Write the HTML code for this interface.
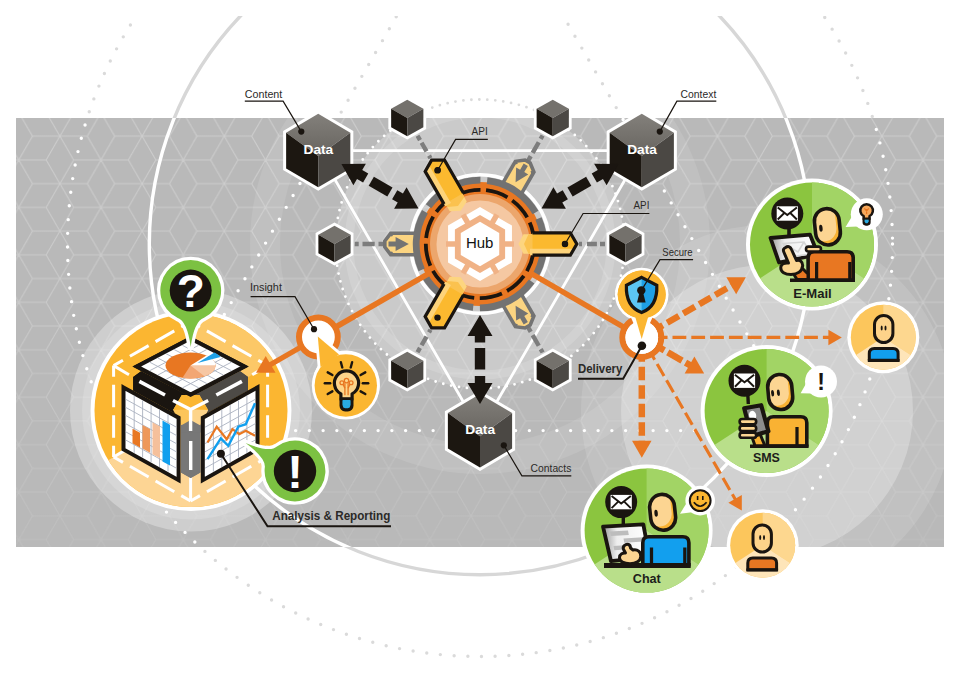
<!DOCTYPE html>
<html><head><meta charset="utf-8"><title>Hub</title>
<style>
html,body{margin:0;padding:0;background:#fff;}
body{width:960px;height:679px;overflow:hidden;}
svg{display:block;}
text{font-family:"Liberation Sans",sans-serif;}
</style></head><body>
<svg width="960" height="679" viewBox="0 0 960 679">
<defs>
<pattern id="rh" x="59.90" y="136.20" width="82.200" height="47.458" patternUnits="userSpaceOnUse"><path d="M0.00 0.00L27.40 0.00M0.00 0.00L13.70 23.73M0.00 0.00L-13.70 23.73M0.00 0.00L-27.40 0.00M0.00 0.00L-13.70 -23.73M0.00 0.00L13.70 -23.73M82.20 0.00L109.60 0.00M82.20 0.00L95.90 23.73M82.20 0.00L68.50 23.73M82.20 0.00L54.80 0.00M82.20 0.00L68.50 -23.73M82.20 0.00L95.90 -23.73M0.00 47.46L27.40 47.46M0.00 47.46L13.70 71.19M0.00 47.46L-13.70 71.19M0.00 47.46L-27.40 47.46M0.00 47.46L-13.70 23.73M0.00 47.46L13.70 23.73M82.20 47.46L109.60 47.46M82.20 47.46L95.90 71.19M82.20 47.46L68.50 71.19M82.20 47.46L54.80 47.46M82.20 47.46L68.50 23.73M82.20 47.46L95.90 23.73M41.10 23.73L68.50 23.73M41.10 23.73L54.80 47.46M41.10 23.73L27.40 47.46M41.10 23.73L13.70 23.73M41.10 23.73L27.40 0.00M41.10 23.73L54.80 0.00" stroke="#cdcdcd" stroke-width="1.1" fill="none"/></pattern>
<clipPath id="rc"><rect x="16" y="118" width="928" height="429"/></clipPath>
</defs>
<defs><clipPath id="topc"><rect x="0" y="16" width="960" height="663"/></clipPath></defs>
<g clip-path="url(#topc)">
<circle cx="480" cy="244" r="412.5" fill="none" stroke="#dadada" stroke-width="3.4" stroke-linecap="round" stroke-dasharray="0 13.75"/>
<polygon points="157.32,430.60 802.68,430.60 480.00,-128.30" fill="none" stroke="#dadada" stroke-width="3.4" stroke-linecap="round" stroke-dasharray="0 13.75" stroke-dashoffset="-0.8"/>
<circle cx="480" cy="244" r="144.5" fill="none" stroke="#dadada" stroke-width="2.8" stroke-linecap="round" stroke-dasharray="0 8"/>
<circle cx="480" cy="244" r="330.7" fill="none" stroke="#d7d7d7" stroke-width="3.4"/>
</g>
<rect x="16" y="118" width="928" height="429" fill="#b9b9b9"/>
<defs><linearGradient id="fade" x1="0" y1="0" x2="0" y2="1"><stop offset="0" stop-color="#fff" stop-opacity="1"/><stop offset="0.45" stop-color="#fff" stop-opacity="0.85"/><stop offset="1" stop-color="#fff" stop-opacity="0.3"/></linearGradient><mask id="fm"><rect x="16" y="118" width="928" height="429" fill="url(#fade)"/></mask></defs>
<rect x="16" y="118" width="928" height="429" fill="url(#rh)" mask="url(#fm)"/>
<g clip-path="url(#rc)">
<circle cx="191" cy="410.5" r="109" fill="#fff" opacity="0.16"/>
<circle cx="191" cy="410.5" r="121" fill="#fff" opacity="0.3"/>
<circle cx="767" cy="411" r="186" fill="#fff" opacity="0.12"/>
<circle cx="767" cy="411" r="146" fill="#fff" opacity="0.26"/>
<circle cx="480" cy="244" r="144" fill="#fff" opacity="0.25"/>
<circle cx="480" cy="244" r="215" fill="none" stroke="#fff" stroke-width="30" opacity="0.10"/>
<circle cx="480" cy="244" r="131" fill="none" stroke="#fff" stroke-width="9" opacity="0.14"/>
<circle cx="480" cy="244" r="412.5" fill="none" stroke="#ffffff" stroke-width="3.4" stroke-linecap="round" stroke-dasharray="0 13.75"/>
<polygon points="157.32,430.60 802.68,430.60 480.00,-128.30" fill="none" stroke="#ffffff" stroke-width="3.4" stroke-linecap="round" stroke-dasharray="0 13.75" stroke-dashoffset="-0.8"/>
<circle cx="480" cy="244" r="144.5" fill="none" stroke="#ffffff" stroke-width="2.8" stroke-linecap="round" stroke-dasharray="0 8"/>
<circle cx="480" cy="244" r="330.7" fill="none" stroke="#ffffff" stroke-width="3.4"/>
</g>
<polygon points="480.00,430.80 318.23,150.60 641.77,150.60" fill="none" stroke="#fff" stroke-width="2.8"/>
<defs><linearGradient id="ctop" x1="0" y1="0" x2="0" y2="1"><stop offset="0" stop-color="#83807b"/><stop offset="1" stop-color="#67645f"/></linearGradient></defs>
<line x1="579.00" y1="244.00" x2="615.50" y2="244.00" stroke="#7d7d7d" stroke-width="4.4" stroke-dasharray="3 4.9 10 3.1 5 50"/>
<line x1="527.00" y1="325.41" x2="547.75" y2="361.35" stroke="#7d7d7d" stroke-width="4.4" stroke-dasharray="7.5 3.8 12.2 3.8 4 50"/>
<line x1="430.50" y1="329.74" x2="412.25" y2="361.35" stroke="#7d7d7d" stroke-width="4.4" stroke-dasharray="3 4.9 10 3.1 5 50"/>
<line x1="386.00" y1="244.00" x2="344.50" y2="244.00" stroke="#7d7d7d" stroke-width="4.4" stroke-dasharray="7.5 3.8 12.2 3.8 4 50"/>
<line x1="430.50" y1="158.26" x2="412.25" y2="126.65" stroke="#7d7d7d" stroke-width="4.4" stroke-dasharray="3 4.9 10 3.1 5 50"/>
<line x1="527.00" y1="162.59" x2="547.75" y2="126.65" stroke="#7d7d7d" stroke-width="4.4" stroke-dasharray="7.5 3.8 12.2 3.8 4 50"/>
<circle cx="480" cy="244" r="69.3" fill="none" stroke="#fff" stroke-width="3.6"/>
<polygon points="520.77,293.21 533.92,315.99 530.20,324.95 525.00,327.95 515.38,326.69 502.23,303.91" fill="#fbd481"/>
<polyline points="520.77,293.21 533.92,315.99 530.20,324.95 525.00,327.95 515.38,326.69 502.23,303.91" fill="none" stroke="#737373" stroke-width="3.6" stroke-linejoin="miter"/>
<polygon points="532.02,312.70 530.42,316.73 534.77,317.46" fill="#737373"/>
<polygon points="513.48,323.40 517.78,324.03 516.23,328.16" fill="#737373"/>
<polygon points="515.60,305.66 528.26,313.59 524.28,315.89 527.83,322.04 523.67,324.44 520.12,318.29 516.14,320.59" fill="#737373"/>
<polygon points="417.00,254.70 390.70,254.70 384.80,247.00 384.80,241.00 390.70,233.30 417.00,233.30" fill="#fbd481"/>
<polyline points="417.00,254.70 390.70,254.70 384.80,247.00 384.80,241.00 390.70,233.30 417.00,233.30" fill="none" stroke="#737373" stroke-width="3.6" stroke-linejoin="miter"/>
<polygon points="394.50,254.70 391.80,251.30 389.00,254.70" fill="#737373"/>
<polygon points="394.50,233.30 391.80,236.70 389.00,233.30" fill="#737373"/>
<polygon points="408.80,244.00 395.60,251.00 395.60,246.40 388.50,246.40 388.50,241.60 395.60,241.60 395.60,237.00" fill="#737373"/>
<polygon points="502.23,184.09 515.38,161.31 525.00,160.05 530.20,163.05 533.92,172.01 520.77,194.79" fill="#fbd481"/>
<polyline points="502.23,184.09 515.38,161.31 525.00,160.05 530.20,163.05 533.92,172.01 520.77,194.79" fill="none" stroke="#737373" stroke-width="3.6" stroke-linejoin="miter"/>
<polygon points="513.48,164.60 517.78,163.97 516.23,159.84" fill="#737373"/>
<polygon points="532.02,175.30 530.42,171.27 534.77,170.54" fill="#737373"/>
<polygon points="515.60,182.34 516.14,167.41 520.12,169.71 523.67,163.56 527.83,165.96 524.28,172.11 528.26,174.41" fill="#737373"/>
<circle cx="480" cy="244" r="62" fill="#e87722"/>
<circle cx="480" cy="244" r="63.8" fill="none" stroke="#727272" stroke-width="6.8" stroke-dasharray="60.13 6.68" transform="rotate(36 480 244)"/>
<line x1="480" y1="244" x2="318.5" y2="337" stroke="#e87722" stroke-width="5.5"/>
<line x1="480" y1="244" x2="641.3" y2="337.3" stroke="#e87722" stroke-width="5.5"/>
<circle cx="480" cy="244" r="50" fill="#eca66c"/>
<circle cx="480" cy="244" r="43.5" fill="#f5c8a2"/>
<circle cx="480" cy="244" r="54.2" fill="none" stroke="#1a1510" stroke-width="3.8" stroke-dasharray="22.70 5.68" transform="rotate(6 480 244)"/>
<polygon points="480.00,207.10 511.96,225.55 511.96,262.45 480.00,280.90 448.04,262.45 448.04,225.55" fill="#fff"/>
<polygon points="480.00,215.00 505.11,229.50 505.11,258.50 480.00,273.00 454.89,258.50 454.89,229.50" fill="#f0b286"/>
<line x1="491.00" y1="224.95" x2="497.00" y2="214.56" stroke="#f0b286" stroke-width="5.5"/>
<line x1="502.00" y1="244.00" x2="514.00" y2="244.00" stroke="#f0b286" stroke-width="5.5"/>
<line x1="491.00" y1="263.05" x2="497.00" y2="273.44" stroke="#f0b286" stroke-width="5.5"/>
<line x1="469.00" y1="263.05" x2="463.00" y2="273.44" stroke="#f0b286" stroke-width="5.5"/>
<line x1="458.00" y1="244.00" x2="446.00" y2="244.00" stroke="#f0b286" stroke-width="5.5"/>
<line x1="469.00" y1="224.95" x2="463.00" y2="214.56" stroke="#f0b286" stroke-width="5.5"/>
<polygon points="480.00,221.80 499.23,232.90 499.23,255.10 480.00,266.20 460.77,255.10 460.77,232.90" fill="#fff"/>
<text x="479.7" y="248.2" font-size="14.6" text-anchor="middle" fill="#111" textLength="27.5" lengthAdjust="spacingAndGlyphs">Hub</text>
<polygon points="518.50,244.00 523.50,234.20 536.00,234.20 536.00,253.80 523.50,253.80" fill="#fdd57f"/>
<polygon points="524.00,244.00 528.50,234.20 536.00,234.20 536.00,253.80 528.50,253.80" fill="#fbc24f"/>
<polygon points="532.50,232.80 570.30,232.80 576.80,244.00 570.30,255.20 532.50,255.20" fill="#fbb92f"/>
<polygon points="530.00,248.70 573.50,248.70 570.30,255.20 530.00,255.20" fill="#fdd37a"/>
<polyline points="532.50,232.80 570.30,232.80 576.80,244.00 570.30,255.20 532.50,255.20" fill="none" stroke="#1a1510" stroke-width="3.2" stroke-linejoin="miter"/>
<circle cx="565.00" cy="244.00" r="3.2" fill="#1a1510"/>
<polygon points="460.75,277.34 466.74,286.57 460.49,297.40 443.51,287.60 449.76,276.77" fill="#fdd57f"/>
<polygon points="458.00,282.11 464.24,290.90 460.49,297.40 443.51,287.60 447.26,281.10" fill="#fbc24f"/>
<polygon points="463.45,295.07 444.55,327.80 431.60,327.83 425.15,316.60 444.05,283.87" fill="#fbb92f"/>
<polygon points="450.93,284.95 429.18,322.62 425.15,316.60 445.30,281.70" fill="#fdd37a"/>
<polyline points="463.45,295.07 444.55,327.80 431.60,327.83 425.15,316.60 444.05,283.87" fill="none" stroke="#1a1510" stroke-width="3.2" stroke-linejoin="miter"/>
<circle cx="437.50" cy="317.61" r="3.2" fill="#1a1510"/>
<polygon points="460.75,210.66 449.76,211.23 443.51,200.40 460.49,190.60 466.74,201.43" fill="#fdd57f"/>
<polygon points="458.00,205.89 447.26,206.90 443.51,200.40 460.49,190.60 464.24,197.10" fill="#fbc24f"/>
<polygon points="444.05,204.13 425.15,171.40 431.60,160.17 444.55,160.20 463.45,192.93" fill="#fbb92f"/>
<polygon points="450.93,203.05 429.18,165.38 425.15,171.40 445.30,206.30" fill="#fdd37a"/>
<polyline points="444.05,204.13 425.15,171.40 431.60,160.17 444.55,160.20 463.45,192.93" fill="none" stroke="#1a1510" stroke-width="3.2" stroke-linejoin="miter"/>
<circle cx="437.50" cy="170.39" r="3.2" fill="#1a1510"/>
<polygon points="625.50,225.70 641.60,234.75 641.60,253.25 625.50,262.30 609.40,253.25 609.40,234.75" fill="#fff" stroke="#fff" stroke-width="5.6" stroke-linejoin="miter"/>
<polygon points="625.50,225.70 641.60,234.75 625.50,244.00 609.40,234.75" fill="#74716c"/>
<polygon points="609.40,234.75 625.50,244.00 625.50,262.30 609.40,253.25" fill="#1c1711"/>
<polygon points="625.50,244.00 641.60,234.75 641.60,253.25 625.50,262.30" fill="#4b4844"/>
<polygon points="552.75,351.71 568.85,360.76 568.85,379.26 552.75,388.31 536.65,379.26 536.65,360.76" fill="#fff" stroke="#fff" stroke-width="5.6" stroke-linejoin="miter"/>
<polygon points="552.75,351.71 568.85,360.76 552.75,370.01 536.65,360.76" fill="#74716c"/>
<polygon points="536.65,360.76 552.75,370.01 552.75,388.31 536.65,379.26" fill="#1c1711"/>
<polygon points="552.75,370.01 568.85,360.76 568.85,379.26 552.75,388.31" fill="#4b4844"/>
<polygon points="407.25,351.71 423.35,360.76 423.35,379.26 407.25,388.31 391.15,379.26 391.15,360.76" fill="#fff" stroke="#fff" stroke-width="5.6" stroke-linejoin="miter"/>
<polygon points="407.25,351.71 423.35,360.76 407.25,370.01 391.15,360.76" fill="#74716c"/>
<polygon points="391.15,360.76 407.25,370.01 407.25,388.31 391.15,379.26" fill="#1c1711"/>
<polygon points="407.25,370.01 423.35,360.76 423.35,379.26 407.25,388.31" fill="#4b4844"/>
<polygon points="334.50,225.70 350.60,234.75 350.60,253.25 334.50,262.30 318.40,253.25 318.40,234.75" fill="#fff" stroke="#fff" stroke-width="5.6" stroke-linejoin="miter"/>
<polygon points="334.50,225.70 350.60,234.75 334.50,244.00 318.40,234.75" fill="#74716c"/>
<polygon points="318.40,234.75 334.50,244.00 334.50,262.30 318.40,253.25" fill="#1c1711"/>
<polygon points="334.50,244.00 350.60,234.75 350.60,253.25 334.50,262.30" fill="#4b4844"/>
<polygon points="407.25,99.69 423.35,108.74 423.35,127.24 407.25,136.29 391.15,127.24 391.15,108.74" fill="#fff" stroke="#fff" stroke-width="5.6" stroke-linejoin="miter"/>
<polygon points="407.25,99.69 423.35,108.74 407.25,117.99 391.15,108.74" fill="#74716c"/>
<polygon points="391.15,108.74 407.25,117.99 407.25,136.29 391.15,127.24" fill="#1c1711"/>
<polygon points="407.25,117.99 423.35,108.74 423.35,127.24 407.25,136.29" fill="#4b4844"/>
<polygon points="552.75,99.69 568.85,108.74 568.85,127.24 552.75,136.29 536.65,127.24 536.65,108.74" fill="#fff" stroke="#fff" stroke-width="5.6" stroke-linejoin="miter"/>
<polygon points="552.75,99.69 568.85,108.74 552.75,117.99 536.65,108.74" fill="#74716c"/>
<polygon points="536.65,108.74 552.75,117.99 552.75,136.29 536.65,127.24" fill="#1c1711"/>
<polygon points="552.75,117.99 568.85,108.74 568.85,127.24 552.75,136.29" fill="#4b4844"/>
<polygon points="480.00,394.05 512.10,413.00 512.10,448.60 480.00,467.55 447.90,448.60 447.90,413.00" fill="#fff" stroke="#fff" stroke-width="6" stroke-linejoin="miter"/>
<polygon points="480.00,394.05 512.10,413.00 480.00,436.30 447.90,413.00" fill="url(#ctop)"/>
<polygon points="447.90,413.00 480.00,436.30 480.00,467.55 447.90,448.60" fill="#1c1711"/>
<polygon points="480.00,436.30 512.10,413.00 512.10,448.60 480.00,467.55" fill="#4b4844"/>
<text x="480.2" y="434.4" font-size="13.6" font-weight="bold" text-anchor="middle" fill="#fff" textLength="29.7" lengthAdjust="spacingAndGlyphs">Data</text>
<polygon points="318.23,113.85 350.33,132.80 350.33,168.40 318.23,187.35 286.13,168.40 286.13,132.80" fill="#fff" stroke="#fff" stroke-width="6" stroke-linejoin="miter"/>
<polygon points="318.23,113.85 350.33,132.80 318.23,156.10 286.13,132.80" fill="url(#ctop)"/>
<polygon points="286.13,132.80 318.23,156.10 318.23,187.35 286.13,168.40" fill="#1c1711"/>
<polygon points="318.23,156.10 350.33,132.80 350.33,168.40 318.23,187.35" fill="#4b4844"/>
<text x="318.4" y="154.2" font-size="13.6" font-weight="bold" text-anchor="middle" fill="#fff" textLength="29.7" lengthAdjust="spacingAndGlyphs">Data</text>
<polygon points="641.77,113.85 673.87,132.80 673.87,168.40 641.77,187.35 609.67,168.40 609.67,132.80" fill="#fff" stroke="#fff" stroke-width="6" stroke-linejoin="miter"/>
<polygon points="641.77,113.85 673.87,132.80 641.77,156.10 609.67,132.80" fill="url(#ctop)"/>
<polygon points="609.67,132.80 641.77,156.10 641.77,187.35 609.67,168.40" fill="#1c1711"/>
<polygon points="641.77,156.10 673.87,132.80 673.87,168.40 641.77,187.35" fill="#4b4844"/>
<text x="642.0" y="154.2" font-size="13.6" font-weight="bold" text-anchor="middle" fill="#fff" textLength="29.7" lengthAdjust="spacingAndGlyphs">Data</text>
<polygon points="480.00,315.00 492.50,336.00 485.20,336.00 485.20,342.50 474.80,342.50 474.80,336.00 467.50,336.00" fill="#1a1510"/>
<polygon points="485.20,348.00 485.20,369.50 474.80,369.50 474.80,348.00" fill="#1a1510"/>
<polygon points="480.00,404.00 492.50,383.00 485.20,383.00 485.20,376.00 474.80,376.00 474.80,383.00 467.50,383.00" fill="#1a1510"/>
<polygon points="418.51,208.50 394.08,208.83 397.73,202.50 392.10,199.25 397.30,190.25 402.93,193.50 406.58,187.17" fill="#1a1510"/>
<polygon points="387.33,196.50 368.71,185.75 373.91,176.75 392.53,187.50" fill="#1a1510"/>
<polygon points="341.44,164.00 353.37,185.33 357.02,179.00 363.08,182.50 368.28,173.50 362.22,170.00 365.87,163.67" fill="#1a1510"/>
<polygon points="541.49,208.50 553.42,187.17 557.07,193.50 562.70,190.25 567.90,199.25 562.27,202.50 565.92,208.83" fill="#1a1510"/>
<polygon points="567.47,187.50 586.09,176.75 591.29,185.75 572.67,196.50" fill="#1a1510"/>
<polygon points="618.56,164.00 594.13,163.67 597.78,170.00 591.72,173.50 596.92,182.50 602.98,179.00 606.63,185.33" fill="#1a1510"/>
<defs><clipPath id="ac"><circle cx="191" cy="410.5" r="96.5"/></clipPath></defs>
<circle cx="191" cy="410.5" r="96.7" fill="#fbb631" stroke="#fff" stroke-width="7.5"/>
<circle cx="191" cy="410.5" r="96.5" fill="#fbb631"/>
<g clip-path="url(#ac)">
<polygon points="190.60,411.30 190.60,142.20 421.60,274.20" fill="#fcc867"/>
<polygon points="190.60,411.30 421.60,548.40 190.60,680.40 -40.40,548.40" fill="#fdd594"/>
</g>
<line x1="190.60" y1="321.60" x2="267.60" y2="365.60" stroke="#fff" stroke-width="3" stroke-dasharray="21.56 8.00" stroke-dashoffset="10.78"/>
<line x1="267.60" y1="365.60" x2="267.60" y2="457.00" stroke="#fff" stroke-width="3" stroke-dasharray="22.47 8.00" stroke-dashoffset="11.23"/>
<line x1="267.60" y1="457.00" x2="190.60" y2="501.00" stroke="#fff" stroke-width="3" stroke-dasharray="21.56 8.00" stroke-dashoffset="10.78"/>
<line x1="190.60" y1="501.00" x2="113.60" y2="457.00" stroke="#fff" stroke-width="3" stroke-dasharray="21.56 8.00" stroke-dashoffset="10.78"/>
<line x1="113.60" y1="457.00" x2="113.60" y2="365.60" stroke="#fff" stroke-width="3" stroke-dasharray="22.47 8.00" stroke-dashoffset="11.23"/>
<line x1="113.60" y1="365.60" x2="190.60" y2="321.60" stroke="#fff" stroke-width="3" stroke-dasharray="21.56 8.00" stroke-dashoffset="10.78"/>
<line x1="190.60" y1="321.60" x2="190.60" y2="339.54" stroke="#fff" stroke-width="3"/>
<line x1="267.60" y1="365.60" x2="252.20" y2="374.74" stroke="#fff" stroke-width="3"/>
<line x1="267.60" y1="457.00" x2="252.20" y2="447.86" stroke="#fff" stroke-width="3"/>
<line x1="190.60" y1="501.00" x2="190.60" y2="476.78" stroke="#fff" stroke-width="3"/>
<line x1="113.60" y1="457.00" x2="129.00" y2="447.86" stroke="#fff" stroke-width="3"/>
<line x1="113.60" y1="365.60" x2="129.00" y2="374.74" stroke="#fff" stroke-width="3"/>
<polygon points="141.10,371.20 190.60,396.90 190.60,409.00 180.60,416.50 133.20,390.60 133.20,377.00" fill="#1a1510"/>
<polygon points="240.10,371.20 190.60,396.90 190.60,409.00 200.80,416.50 248.00,390.60 248.00,377.00" fill="#4d4a46"/>
<polygon points="181.00,410.00 200.40,410.00 200.40,472.50 190.70,478.00 181.00,472.50" fill="#777"/>
<polygon points="173.10,410.00 181.80,395.00 199.40,395.00 208.10,410.00 200.00,425.00 181.20,425.00" fill="#fcc55a"/>
<polygon points="181.80,395.00 199.40,395.00 208.10,410.00 190.60,409.50 173.10,410.00" fill="#fbb631"/>
<polygon points="190.60,409.50 208.10,410.00 200.00,425.00 190.60,430.50" fill="#fdd48a"/>
<polygon points="181.00,425.50 190.60,420.00 200.40,425.50 200.40,432.50 181.00,432.50" fill="#777"/>
<line x1="139.4" y1="381.3" x2="165" y2="395" stroke="#fff" stroke-width="3.6"/>
<line x1="241.9" y1="381.3" x2="216.3" y2="395" stroke="#fff" stroke-width="3.6"/>
<line x1="190.7" y1="441" x2="190.7" y2="470" stroke="#fff" stroke-width="3.4"/>
<path d="M190.6 409.5L173.0 400.6M190.6 409.5L208.2 400.6M190.6 409.5L190.6 431.0" stroke="#fff" stroke-width="3.4" fill="none"/>
<polygon points="190.40,338.55 244.37,366.41 190.60,394.64 136.82,366.41" fill="#fff" stroke="#1a1510" stroke-width="4" stroke-linejoin="miter"/>
<path d="M198.6 345.3L149.7 370.7M206.8 349.5L157.9 375.0M215.0 353.7L166.1 379.3M223.2 358.0L174.3 383.6M231.4 362.2L182.4 387.9M182.3 345.3L231.4 370.7M174.1 349.5L223.3 375.0M166.0 353.7L215.1 379.3M157.8 358.0L206.9 383.6M149.7 362.2L198.8 387.9" stroke="#aab1c0" stroke-width="0.9" fill="none"/>
<g transform="translate(191 364.8)">
<path d="M0.00 0.00L-4.51 13.79A26 14 0 1 1 13.78 -11.87Z" fill="#e87722"/>
<path d="M0.00 0.00L22.52 7.00A26 14 0 0 1 -4.51 13.79Z" fill="#f0a26c"/>
<path d="M0.00 0.00L25.75 -1.95A26 14 0 0 1 22.52 7.00Z" fill="#f6c9a6"/>
<path d="M6.50 -3.50L24.89 -11.21A24 12 0 0 1 29.79 -6.40Z" fill="#1ea0e6"/>
</g>
<polygon points="141.10,371.20 190.60,396.90 190.60,409.00 180.60,416.50 133.20,390.60 133.20,377.00" fill="#1a1510"/>
<polygon points="240.10,371.20 190.60,396.90 190.60,409.00 200.80,416.50 248.00,390.60 248.00,377.00" fill="#4d4a46"/>
<polygon points="181.00,410.00 200.40,410.00 200.40,472.50 190.70,478.00 181.00,472.50" fill="#777"/>
<polygon points="173.10,410.00 181.80,395.00 199.40,395.00 208.10,410.00 200.00,425.00 181.20,425.00" fill="#fcc55a"/>
<polygon points="181.80,395.00 199.40,395.00 208.10,410.00 190.60,409.50 173.10,410.00" fill="#fbb631"/>
<polygon points="190.60,409.50 208.10,410.00 200.00,425.00 190.60,430.50" fill="#fdd48a"/>
<polygon points="181.00,425.50 190.60,420.00 200.40,425.50 200.40,432.50 181.00,432.50" fill="#777"/>
<line x1="139.4" y1="381.3" x2="165" y2="395" stroke="#fff" stroke-width="3.6"/>
<line x1="241.9" y1="381.3" x2="216.3" y2="395" stroke="#fff" stroke-width="3.6"/>
<line x1="190.7" y1="441" x2="190.7" y2="470" stroke="#fff" stroke-width="3.4"/>
<path d="M190.6 409.5L173.0 400.6M190.6 409.5L208.2 400.6M190.6 409.5L190.6 431.0" stroke="#fff" stroke-width="3.4" fill="none"/>
<polygon points="190.40,338.55 244.37,366.41 190.60,394.64 136.82,366.41" fill="#fff" stroke="#1a1510" stroke-width="4" stroke-linejoin="miter"/>
<path d="M198.6 345.3L149.7 370.7M206.8 349.5L157.9 375.0M215.0 353.7L166.1 379.3M223.2 358.0L174.3 383.6M231.4 362.2L182.4 387.9M182.3 345.3L231.4 370.7M174.1 349.5L223.3 375.0M166.0 353.7L215.1 379.3M157.8 358.0L206.9 383.6M149.7 362.2L198.8 387.9" stroke="#aab1c0" stroke-width="0.9" fill="none"/>
<g transform="translate(190.5 365.5)">
<ellipse cx="0" cy="0" rx="25" ry="13" fill="#e87722"/>
<path d="M0 0L25 0A25 13 0 0 1 -8 12.3Z" fill="#f2a673"/>
<path d="M0 0L25 0A25 13 0 0 1 14 10.8Z" fill="#f6c7a4"/>
<path d="M0 0L25 0A25 13 0 0 0 16 -10Z" fill="#fff"/>
<path d="M7 -2.5L30 -8.5A25 13 0 0 0 24 -13Z" fill="#1ea0e6"/>
</g>
<polygon points="123.50,387.38 178.60,417.68 178.60,480.19 123.50,449.43" fill="#fff" stroke="#1a1510" stroke-width="4" stroke-linejoin="miter"/>
<path d="M134.2 395.7L134.2 452.9M142.6 400.4L142.6 457.6M151.1 405.0L151.1 462.3M159.5 409.7L159.5 467.0M168.0 414.3L168.0 471.7M125.7 399.3L176.4 427.2M125.7 407.4L176.4 435.4M125.7 415.5L176.4 443.6M125.7 423.7L176.4 451.8M125.7 431.8L176.4 460.0M125.7 440.0L176.4 468.2" stroke="#aab1c0" stroke-width="0.9" fill="none"/>
<polygon points="132.50,428.70 140.00,432.82 140.00,447.43 132.50,443.30" fill="#e87722"/>
<polygon points="142.50,425.00 150.00,429.12 150.00,452.73 142.50,448.60" fill="#ee985a"/>
<polygon points="152.50,422.30 160.00,426.43 160.00,458.32 152.50,454.20" fill="#f5c09b"/>
<polygon points="162.50,420.60 170.00,424.73 170.00,465.62 162.50,461.50" fill="#119fee"/>
<polygon points="202.80,417.68 257.50,387.39 257.50,449.43 202.80,480.18" fill="#fff" stroke="#1a1510" stroke-width="4" stroke-linejoin="miter"/>
<path d="M213.4 414.3L213.4 471.7M221.8 409.7L221.8 467.0M230.2 405.1L230.2 462.3M238.5 400.4L238.5 457.6M246.9 395.8L246.9 452.9M205.0 427.2L255.3 399.3M205.0 435.4L255.3 407.4M205.0 443.6L255.3 415.6M205.0 451.8L255.3 423.7M205.0 460.0L255.3 431.9M205.0 468.2L255.3 440.0" stroke="#aab1c0" stroke-width="0.9" fill="none"/>
<polyline points="207.5,442.5 216.7,426.7 226.7,439.2 232.5,429.2 239.2,434.2 245.8,430.8 255,435.8" fill="none" stroke="#e87722" stroke-width="2.2" stroke-linejoin="miter"/>
<polyline points="207.5,459.2 220.8,438.3 228.3,445.8 238.3,426.7 245.8,424.2 255,403.3" fill="none" stroke="#119fee" stroke-width="2.4" stroke-linejoin="miter"/>
<line x1="318.4" y1="337" x2="268" y2="366" stroke="#e87722" stroke-width="5.2"/>
<polygon points="256.00,372.80 275.50,372.80 265.70,356.00" fill="#e87722"/>
<circle cx="318.4" cy="337" r="19.4" fill="#fff" stroke="#e87722" stroke-width="6"/>
<path d="M177.37 317.82A30.4 30.4 0 1 1 204.03 317.82Q194.03 321.27 190.70 347.00Q187.37 321.27 177.37 317.82Z" fill="#7cc142" stroke="#fff" stroke-width="6.6" stroke-linejoin="round" paint-order="stroke"/>
<circle cx="190.7" cy="290.6" r="21" fill="#1a1510"/>
<text x="190.9" y="307.3" font-size="46" font-weight="bold" text-anchor="middle" fill="#fff">?</text>
<path d="M276.94 446.55A30.4 30.4 0 1 1 264.74 468.06Q266.61 458.46 245.60 443.00Q269.66 453.08 276.94 446.55Z" fill="#7cc142" stroke="#fff" stroke-width="6.6" stroke-linejoin="round" paint-order="stroke"/>
<circle cx="295" cy="471" r="21.2" fill="#1a1510"/>
<text x="295" y="487.8" font-size="47" font-weight="bold" text-anchor="middle" fill="#fff">!</text>
<path d="M337.30 354.50A31 31 0 1 1 324.40 362.16Q328.29 357.69 317.60 336.00Q331.52 355.78 337.30 354.50Z" fill="#fbb631" stroke="#fff" stroke-width="5.2" stroke-linejoin="round" paint-order="stroke"/>
<polygon points="317.80,336.50 320.50,367.00 339.00,354.50" fill="#fff" stroke="#fff" stroke-width="5.6" stroke-linejoin="round"/>
<circle cx="345.8" cy="385.5" r="34" fill="#fff"/>
<polygon points="317.80,336.50 320.50,367.00 339.00,354.50" fill="#fbb631"/>
<circle cx="345.8" cy="385.5" r="31.2" fill="#fbb631"/>
<line x1="362.80" y1="383.20" x2="368.20" y2="383.20" stroke="#1a1510" stroke-width="2.4" stroke-linecap="round"/>
<line x1="360.62" y1="391.35" x2="365.29" y2="394.05" stroke="#1a1510" stroke-width="2.4" stroke-linecap="round"/>
<line x1="360.62" y1="375.05" x2="365.29" y2="372.35" stroke="#1a1510" stroke-width="2.4" stroke-linecap="round"/>
<line x1="330.20" y1="383.20" x2="324.80" y2="383.20" stroke="#1a1510" stroke-width="2.4" stroke-linecap="round"/>
<line x1="332.38" y1="391.35" x2="327.71" y2="394.05" stroke="#1a1510" stroke-width="2.4" stroke-linecap="round"/>
<line x1="332.38" y1="375.05" x2="327.71" y2="372.35" stroke="#1a1510" stroke-width="2.4" stroke-linecap="round"/>
<line x1="350.72" y1="367.46" x2="352.12" y2="362.24" stroke="#1a1510" stroke-width="2.4" stroke-linecap="round"/>
<line x1="342.28" y1="367.46" x2="340.88" y2="362.24" stroke="#1a1510" stroke-width="2.4" stroke-linecap="round"/>
<rect x="341.10" y="396.20" width="10.80" height="13.60" rx="4.00" fill="#29abe2" stroke="#1a1510" stroke-width="3.2"/>
<path d="M340.90 399.20L340.90 393.80A12.10 12.10 0 1 1 352.10 393.80L352.10 399.20Z" fill="#fdd48a" stroke="#1a1510" stroke-width="3.2" stroke-linejoin="round"/>
<rect x="342.60" y="399.20" width="7.80" height="6.00" fill="#29abe2"/>
<line x1="340.90" y1="398.70" x2="352.10" y2="398.70" stroke="#1a1510" stroke-width="2.56"/>
<path d="M344.90 395.20L344.90 383.20M348.10 395.20L348.10 383.20" stroke="#e87722" stroke-width="1.3" fill="none"/>
<circle cx="346.50" cy="380.60" r="2.20" fill="none" stroke="#e87722" stroke-width="1.3"/>
<circle cx="341.90" cy="382.70" r="1.90" fill="none" stroke="#e87722" stroke-width="1.3"/>
<circle cx="351.10" cy="382.70" r="1.90" fill="none" stroke="#e87722" stroke-width="1.3"/>
<path d="M343.10 384.40L344.90 388.20M349.90 384.40L348.10 388.20" stroke="#e87722" stroke-width="1.3" fill="none"/>
<line x1="659.99" y1="326.90" x2="731.87" y2="285.40" stroke="#e87722" stroke-width="6.5" stroke-dasharray="13.5 5" stroke-dashoffset="10.20"/>
<polygon points="745.90,277.30 726.40,277.30 736.15,294.19" fill="#e87722"/>
<line x1="641.80" y1="358.40" x2="641.80" y2="441.40" stroke="#e87722" stroke-width="6.5" stroke-dasharray="13.5 5" stroke-dashoffset="10.20"/>
<polygon points="641.80,457.70 651.55,440.81 632.05,440.81" fill="#e87722"/>
<line x1="659.99" y1="347.90" x2="690.30" y2="365.40" stroke="#e87722" stroke-width="6.5" stroke-dasharray="16.5 4" stroke-dashoffset="11.50"/>
<polygon points="704.15,373.40 694.40,356.51 684.65,373.40" fill="#e87722"/>
<line x1="662.80" y1="337.40" x2="829.80" y2="337.40" stroke="#e87722" stroke-width="3.1" stroke-dasharray="13.8 5" stroke-dashoffset="9.10"/>
<polygon points="841.80,337.40 828.38,329.65 828.38,345.15" fill="#e87722"/>
<line x1="652.30" y1="355.59" x2="735.80" y2="500.21" stroke="#e87722" stroke-width="3.1" stroke-dasharray="13.8 5" stroke-dashoffset="9.10"/>
<polygon points="741.80,510.61 741.80,495.11 728.38,502.86" fill="#e87722"/>
<polygon points="641.70,339.00 633.50,314.00 650.00,314.00" fill="#fff" stroke="#fff" stroke-width="5.6" stroke-linejoin="round"/>
<circle cx="641.7" cy="294.6" r="26.8" fill="#fff"/>
<polygon points="641.70,339.00 633.50,314.00 650.00,314.00" fill="#fbb631"/>
<circle cx="641.7" cy="294.6" r="24" fill="#fbb631"/>
<circle cx="641.8" cy="337.4" r="19.4" fill="none" stroke="#e87722" stroke-width="6.2"/>
<path d="M634.80 322.70 A16.3 16.3 0 1 0 648.80 322.70 L641.80 337.40Z" fill="#fff"/>
<circle cx="641.8" cy="337.4" r="16.3" fill="#fff"/>
<polygon points="641.70,342.00 630.30,316.00 653.10,316.00" fill="#fff"/>
<polygon points="641.70,339.00 633.20,310.00 650.20,310.00" fill="#fbb631"/>
<circle cx="641.7" cy="294.6" r="24" fill="#fbb631"/>
<path d="M641.6 277.3L656.8 285.3C657.3 297 654 308 641.6 312.6C629.2 308 625.9 297 626.4 285.3Z" fill="#5cc6f3"/>
<path d="M641.6 277.3L656.8 285.3C657.3 297 654 308 641.6 312.6Z" fill="#1ea0e6"/>
<path d="M641.6 277.3L656.8 285.3C657.3 297 654 308 641.6 312.6C629.2 308 625.9 297 626.4 285.3Z" fill="none" stroke="#1a1510" stroke-width="3.2" stroke-linejoin="miter"/>
<circle cx="641.3" cy="290.4" r="4.2" fill="#1a1510"/>
<polygon points="639.60,292.00 643.00,292.00 645.60,302.60 637.00,302.60" fill="#1a1510"/>
<defs><clipPath id="ce"><circle cx="812" cy="244.5" r="62"/></clipPath></defs>
<circle cx="812" cy="244.5" r="66" fill="#fff"/>
<circle cx="812" cy="244.5" r="62" fill="#8bc53f"/>
<g clip-path="url(#ce)">
<polygon points="812.00,244.50 812.00,108.10 948.40,108.10 926.39,318.79" fill="#a2d465"/>
<polygon points="812.00,244.50 926.39,318.79 948.40,380.90 675.60,380.90 697.61,318.79" fill="#b9df8a"/>
</g>
<defs><clipPath id="cs"><circle cx="766.6" cy="411" r="62"/></clipPath></defs>
<circle cx="766.6" cy="411" r="66" fill="#fff"/>
<circle cx="766.6" cy="411" r="62" fill="#8bc53f"/>
<g clip-path="url(#cs)">
<polygon points="766.60,411.00 766.60,274.60 903.00,274.60 880.99,485.29" fill="#a2d465"/>
<polygon points="766.60,411.00 880.99,485.29 903.00,547.40 630.20,547.40 652.21,485.29" fill="#b9df8a"/>
</g>
<defs><clipPath id="cc"><circle cx="646.6" cy="530.6" r="62"/></clipPath></defs>
<circle cx="646.6" cy="530.6" r="66" fill="#fff"/>
<circle cx="646.6" cy="530.6" r="62" fill="#8bc53f"/>
<g clip-path="url(#cc)">
<polygon points="646.60,530.60 646.60,394.20 783.00,394.20 760.99,604.89" fill="#a2d465"/>
<polygon points="646.60,530.60 760.99,604.89 783.00,667.00 510.20,667.00 532.21,604.89" fill="#b9df8a"/>
</g>
<defs><clipPath id="cp1"><circle cx="883.3" cy="337.3" r="32.5"/></clipPath></defs>
<circle cx="883.3" cy="337.3" r="36" fill="#fff"/>
<circle cx="883.3" cy="337.3" r="32.5" fill="#fcc65c"/>
<g clip-path="url(#cp1)">
<polygon points="883.30,337.30 883.30,265.80 954.80,265.80 943.26,376.24" fill="#fdd78f"/>
<polygon points="883.30,337.30 943.26,376.24 954.80,408.80 811.80,408.80 823.34,376.24" fill="#fee5b9"/>
</g>
<defs><clipPath id="cp2"><circle cx="762.7" cy="545.2" r="32.5"/></clipPath></defs>
<circle cx="762.7" cy="545.2" r="36" fill="#fff"/>
<circle cx="762.7" cy="545.2" r="32.5" fill="#fcc65c"/>
<g clip-path="url(#cp2)">
<polygon points="762.70,545.20 762.70,473.70 834.20,473.70 822.66,584.14" fill="#fdd78f"/>
<polygon points="762.70,545.20 822.66,584.14 834.20,616.70 691.20,616.70 702.74,584.14" fill="#fee5b9"/>
</g>
<g>
<line x1="789" y1="228" x2="789" y2="236" stroke="#1a1510" stroke-width="3.6"/>
<circle cx="787.3" cy="213.5" r="16" fill="#1a1510"/>
<rect x="776.70" y="206.30" width="21.20" height="14.40" fill="#fff"/>
<path d="M777.70 207.50L787.30 215.00L796.90 207.50M777.70 219.50L784.30 213.00M796.90 219.50L790.30 213.00" fill="none" stroke="#1a1510" stroke-width="1.9"/>
<defs><linearGradient id="tg" x1="0" y1="0" x2="1" y2="0"><stop offset="0" stop-color="#9a9a9a"/><stop offset="0.3" stop-color="#eee"/><stop offset="1" stop-color="#fff"/></linearGradient></defs>
<polygon points="770.50,238.00 810.00,234.60 818.00,254.50 779.00,262.50" fill="url(#tg)" stroke="#1a1510" stroke-width="3.8" stroke-linejoin="round"/>
<path d="M783 243.5L804 242L811 254L789 257Z M783 243.5L798 252L804 242" fill="none" stroke="#d5d5d5" stroke-width="1.6"/>
<path d="M808.10 280.20L808.10 257.80Q808.10 251.80 814.10 251.80L847.20 251.80Q853.20 251.80 853.20 257.80L853.20 280.20Z" fill="#e87722" stroke="#1a1510" stroke-width="3.6" stroke-linejoin="round"/>
<line x1="816.6" y1="262" x2="816.6" y2="280.2" stroke="#1a1510" stroke-width="3.24"/>
<line x1="849.8" y1="262" x2="849.8" y2="280.2" stroke="#1a1510" stroke-width="3.24"/>
<line x1="790" y1="280.3" x2="855" y2="280.3" stroke="#1a1510" stroke-width="3.6"/>
<rect x="806" y="246.6" width="15" height="5" rx="2.5" fill="#fcd592" stroke="#1a1510" stroke-width="2.6"/>
<polygon points="793.00,273.00 800.00,266.00 808.00,274.00 808.00,279.50 797.00,279.50" fill="#e87722" stroke="#1a1510" stroke-width="3" stroke-linejoin="round"/>
<path d="M785.6 247.5C788.5 245.5 790.5 247 791.5 249.5L796.5 260.5C800 259.5 803 262 802.6 266C802 271.5 797 274.5 791 274.5C785 274.5 780.5 272 780.8 267.5C781 264 784.5 262.5 788.5 263L783.8 252C782.8 249.8 783.8 248.3 785.6 247.5Z" fill="#fcd592" stroke="#1a1510" stroke-width="3" stroke-linejoin="round"/>
<g transform="translate(827.4 226.8) rotate(-6)">
<defs><clipPath id="hc827226"><rect x="-12.4" y="-18.2" width="24.8" height="36.4" rx="12.4"/></clipPath></defs>
<rect x="-12.4" y="-18.2" width="24.8" height="36.4" rx="12.4" fill="#f9b233"/>
<g clip-path="url(#hc827226)"><rect x="-15.9" y="-22.2" width="24.8" height="36.4" rx="12.4" fill="#fcd592"/></g>
<rect x="-12.4" y="-18.2" width="24.8" height="36.4" rx="12.4" fill="none" stroke="#1a1510" stroke-width="3.6"/>
</g>
<ellipse cx="820.9" cy="228.2" rx="1.7" ry="3.5" fill="#1a1510" transform="rotate(-6 820.9 228.2)"/>
<circle cx="866.8" cy="214.3" r="16" fill="#fff"/><polygon points="857.64,226.43 845.60,227.00 851.78,216.66" fill="#fff"/>
<rect x="863.79" y="217.37" width="5.62" height="7.08" rx="2.08" fill="#29abe2" stroke="#1a1510" stroke-width="2.5"/>
<path d="M863.68 218.93L863.68 216.12A6.30 6.30 0 1 1 869.52 216.12L869.52 218.93Z" fill="#f6a85b" stroke="#1a1510" stroke-width="2.5" stroke-linejoin="round"/>
<rect x="864.57" y="218.93" width="4.06" height="3.12" fill="#29abe2"/>
<line x1="863.68" y1="218.67" x2="869.52" y2="218.67" stroke="#1a1510" stroke-width="2"/>
<path d="M866.6 214V209M864.4 208.4L866.6 211L868.8 208.4" stroke="#e87722" stroke-width="1.2" fill="none"/>
<text x="812.5" y="298.2" font-size="13.5" font-weight="bold" text-anchor="middle" fill="#1d1d1b" textLength="38.5" lengthAdjust="spacingAndGlyphs">E-Mail</text>
</g>
<g>
<line x1="747.8" y1="394" x2="748.3" y2="404" stroke="#1a1510" stroke-width="3.4"/>
<circle cx="744.5" cy="380.7" r="16" fill="#1a1510"/>
<rect x="733.90" y="373.50" width="21.20" height="14.40" fill="#fff"/>
<path d="M734.90 374.70L744.50 382.20L754.10 374.70M734.90 386.70L741.50 380.20M754.10 386.70L747.50 380.20" fill="none" stroke="#1a1510" stroke-width="1.9"/>
<path d="M767.40 446.00L767.40 422.80Q767.40 416.80 773.40 416.80L800.80 416.80Q806.80 416.80 806.80 422.80L806.80 446.00Z" fill="#f9b233" stroke="#1a1510" stroke-width="3.6" stroke-linejoin="round"/>
<line x1="797" y1="427" x2="797" y2="446" stroke="#1a1510" stroke-width="3.24"/>
<line x1="750" y1="446.2" x2="808.6" y2="446.2" stroke="#1a1510" stroke-width="3.6"/>
<polygon points="752.00,437.00 760.00,434.00 765.00,445.80 755.00,445.80" fill="#f9b233" stroke="#1a1510" stroke-width="3" stroke-linejoin="round"/>
<polygon points="744.20,408.20 761.20,405.20 768.40,431.20 751.40,436.20" fill="#8c8c8c" stroke="#1a1510" stroke-width="4.2" stroke-linejoin="round"/>
<ellipse cx="752.6" cy="415.4" rx="3.6" ry="4.6" fill="#fff" transform="rotate(-12 752.6 415.4)"/>
<rect x="739.6" y="419.0" width="16.6" height="5.2" rx="2.6" fill="#fcd592" stroke="#1a1510" stroke-width="2.6"/>
<rect x="739.6" y="425.8" width="16.6" height="5.2" rx="2.6" fill="#fcd592" stroke="#1a1510" stroke-width="2.6"/>
<rect x="739.6" y="432.6" width="16.6" height="5.2" rx="2.6" fill="#fcd592" stroke="#1a1510" stroke-width="2.6"/>
<g transform="translate(780.2 392) rotate(-5)">
<defs><clipPath id="hc780392"><rect x="-12.05" y="-17.55" width="24.1" height="35.1" rx="12.05"/></clipPath></defs>
<rect x="-12.05" y="-17.55" width="24.1" height="35.1" rx="12.05" fill="#f9b233"/>
<g clip-path="url(#hc780392)"><rect x="-15.55" y="-21.55" width="24.1" height="35.1" rx="12.05" fill="#fcd592"/></g>
<rect x="-12.05" y="-17.55" width="24.1" height="35.1" rx="12.05" fill="none" stroke="#1a1510" stroke-width="3.6"/>
</g>
<ellipse cx="772.6" cy="393.2" rx="1.5" ry="3.2" fill="#1a1510" transform="rotate(-5 772.6 393.2)"/>
<ellipse cx="778.4" cy="392.8" rx="1.5" ry="3.2" fill="#1a1510" transform="rotate(-5 778.4 392.8)"/>
<circle cx="821" cy="381.5" r="16" fill="#fff"/><polygon points="811.65,393.49 800.60,393.30 805.95,383.63" fill="#fff"/>
<text x="821.2" y="389.8" font-size="23" font-weight="bold" text-anchor="middle" fill="#1a1510">!</text>
<text x="766.4" y="462.2" font-size="13.5" font-weight="bold" text-anchor="middle" fill="#1d1d1b" textLength="27" lengthAdjust="spacingAndGlyphs">SMS</text>
</g>
<g>
<line x1="623.3" y1="516" x2="623.3" y2="524" stroke="#1a1510" stroke-width="3.4"/>
<circle cx="621.2" cy="502.1" r="16" fill="#1a1510"/>
<rect x="610.60" y="494.90" width="21.20" height="14.40" fill="#fff"/>
<path d="M611.60 496.10L621.20 503.60L630.80 496.10M611.60 508.10L618.20 501.60M630.80 508.10L624.20 501.60" fill="none" stroke="#1a1510" stroke-width="1.9"/>
<polygon points="603.00,526.60 643.30,524.30 649.50,557.00 611.00,561.20" fill="url(#tg)" stroke="#1a1510" stroke-width="3.8" stroke-linejoin="round"/>
<path d="M610 531.5L628 530.5L628.8 535L610.8 536Z M623.5 538.5L643 537.2L643.8 541.5L624.3 542.8Z M613.5 546L628.5 545L629.3 549.3L614.3 550.3Z" fill="#bdbdbd"/>
<path d="M642.80 565.50L642.80 542.70Q642.80 536.70 648.80 536.70L682.90 536.70Q688.90 536.70 688.90 542.70L688.90 565.50Z" fill="#129fee" stroke="#1a1510" stroke-width="3.6" stroke-linejoin="round"/>
<line x1="651.5" y1="547.5" x2="651.5" y2="565.5" stroke="#1a1510" stroke-width="3.24"/>
<line x1="684.8" y1="547.5" x2="684.8" y2="565.5" stroke="#1a1510" stroke-width="3.24"/>
<rect x="604" y="563" width="86.7" height="5" fill="#1a1510"/>
<path d="M624.5 545.5C627 543 630.5 544.5 630.5 548L633 550C637.5 549 641 552 640.8 556.5C640.6 561 636 563.8 630 563.8C624 563.8 619.2 561.5 619.5 557.5C619.8 554 623 552.8 625.5 553L623.6 549.5C622.8 547.8 623.3 546.5 624.5 545.5Z" fill="#fcd592" stroke="#1a1510" stroke-width="3" stroke-linejoin="round"/>
<g transform="translate(662.6 512.3) rotate(-6)">
<defs><clipPath id="hc662512"><rect x="-12.45" y="-17.9" width="24.9" height="35.8" rx="12.45"/></clipPath></defs>
<rect x="-12.45" y="-17.9" width="24.9" height="35.8" rx="12.45" fill="#f9b233"/>
<g clip-path="url(#hc662512)"><rect x="-15.95" y="-21.9" width="24.9" height="35.8" rx="12.45" fill="#fcd592"/></g>
<rect x="-12.45" y="-17.9" width="24.9" height="35.8" rx="12.45" fill="none" stroke="#1a1510" stroke-width="3.6"/>
</g>
<ellipse cx="656.1" cy="513.2" rx="1.7" ry="3.5" fill="#1a1510" transform="rotate(-6 656.1 513.2)"/>
<circle cx="700.2" cy="500.6" r="14.8" fill="#fff"/><polygon points="692.17,512.14 680.00,513.80 686.41,503.32" fill="#fff"/>
<circle cx="700.2" cy="500.6" r="10.4" fill="#fbb631" stroke="#1a1510" stroke-width="2"/>
<path d="M697.6 496V500M702.8 496V500" stroke="#1a1510" stroke-width="1.6" fill="none"/>
<path d="M693.8 502.3Q700.2 510.2 706.6 502.3" stroke="#1a1510" stroke-width="1.7" fill="none"/>
<text x="646.8" y="583.4" font-size="13.5" font-weight="bold" text-anchor="middle" fill="#1d1d1b" textLength="28" lengthAdjust="spacingAndGlyphs">Chat</text>
</g>
<path d="M869.30 360.30L869.30 353.50Q869.30 348.50 874.30 348.50L893.10 348.50Q898.10 348.50 898.10 353.50L898.10 360.30Z" fill="#129fee" stroke="#1a1510" stroke-width="3" stroke-linejoin="round"/>
<line x1="867.8" y1="360.5" x2="899.6" y2="360.5" stroke="#1a1510" stroke-width="3"/>
<rect x="874.5" y="315.4" width="18.4" height="27.2" rx="9.2" fill="#fdd38a" stroke="#1a1510" stroke-width="3"/>
<ellipse cx="881.7" cy="328.1" rx="1" ry="2.5" fill="#1a1510" transform="rotate(0 881.7 328.1)"/>
<ellipse cx="885.5" cy="328.1" rx="1" ry="2.5" fill="#1a1510" transform="rotate(0 885.5 328.1)"/>
<path d="M747.80 569.80L747.80 563.00Q747.80 558.00 752.80 558.00L771.60 558.00Q776.60 558.00 776.60 563.00L776.60 569.80Z" fill="#e87722" stroke="#1a1510" stroke-width="3" stroke-linejoin="round"/>
<line x1="746.3" y1="570" x2="778.1" y2="570" stroke="#1a1510" stroke-width="3"/>
<rect x="753" y="524.9" width="18.4" height="27.2" rx="9.2" fill="#fdd38a" stroke="#1a1510" stroke-width="3"/>
<ellipse cx="760.2" cy="537.6" rx="1" ry="2.5" fill="#1a1510" transform="rotate(0 760.2 537.6)"/>
<ellipse cx="764" cy="537.6" rx="1" ry="2.5" fill="#1a1510" transform="rotate(0 764 537.6)"/>
<path d="M244.80 101.20L283.10 101.20L301.30 131.60" fill="none" stroke="#1a1510" stroke-width="1.2" stroke-linejoin="miter"/>
<circle cx="301.30" cy="131.60" r="3.1" fill="#1a1510"/>
<text x="244.80" y="97.50" font-size="11.2"  fill="#2b2a28" textLength="37.50" lengthAdjust="spacingAndGlyphs">Content</text>
<path d="M716.30 101.20L676.90 101.20L659.80 131.60" fill="none" stroke="#1a1510" stroke-width="1.2" stroke-linejoin="miter"/>
<circle cx="659.80" cy="131.60" r="3.1" fill="#1a1510"/>
<text x="680.60" y="97.50" font-size="11.2"  fill="#2b2a28" textLength="35.70" lengthAdjust="spacingAndGlyphs">Context</text>
<path d="M487.80 139.40L455.60 139.40L437.80 170.00" fill="none" stroke="#1a1510" stroke-width="1.2" stroke-linejoin="miter"/>
<circle cx="437.80" cy="170.00" r="3.1" fill="#1a1510"/>
<text x="471.60" y="135.00" font-size="11.2"  fill="#2b2a28" textLength="16.20" lengthAdjust="spacingAndGlyphs">API</text>
<path d="M649.40 213.50L583.10 213.50L565.00 244.00" fill="none" stroke="#1a1510" stroke-width="1.2" stroke-linejoin="miter"/>
<circle cx="565.00" cy="244.00" r="3.1" fill="#1a1510"/>
<text x="633.50" y="209.00" font-size="11.2"  fill="#2b2a28" textLength="15.90" lengthAdjust="spacingAndGlyphs">API</text>
<path d="M693.10 259.60L660.00 259.60L641.30 290.60" fill="none" stroke="#1a1510" stroke-width="1.2" stroke-linejoin="miter"/>
<circle cx="641.30" cy="290.60" r="3.1" fill="#1a1510"/>
<text x="662.30" y="256.20" font-size="11.2"  fill="#2b2a28" textLength="30.20" lengthAdjust="spacingAndGlyphs">Secure</text>
<path d="M250.60 296.60L295.00 296.60L314.00 329.20" fill="none" stroke="#1a1510" stroke-width="1.2" stroke-linejoin="miter"/>
<circle cx="314.00" cy="329.20" r="3.1" fill="#1a1510"/>
<text x="250.00" y="291.20" font-size="11.2"  fill="#2b2a28" textLength="31.90" lengthAdjust="spacingAndGlyphs">Insight</text>
<path d="M571.30 475.90L521.90 475.90L503.80 445.30" fill="none" stroke="#1a1510" stroke-width="1.2" stroke-linejoin="miter"/>
<circle cx="503.80" cy="445.30" r="3.1" fill="#1a1510"/>
<text x="530.60" y="471.50" font-size="11.2"  fill="#2b2a28" textLength="40.70" lengthAdjust="spacingAndGlyphs">Contacts</text>
<path d="M578.00 378.70L623.10 378.70L641.90 345.70" fill="none" stroke="#1a1510" stroke-width="2" stroke-linejoin="miter"/>
<circle cx="641.90" cy="345.70" r="4.3" fill="#1a1510"/>
<text x="577.90" y="372.50" font-size="12.6" font-weight="bold" fill="#2b2a28" textLength="44.40" lengthAdjust="spacingAndGlyphs">Delivery</text>
<path d="M391.00 526.20L267.50 526.20L220.90 453.80" fill="none" stroke="#1a1510" stroke-width="2" stroke-linejoin="miter"/>
<circle cx="220.90" cy="453.80" r="4" fill="#1a1510"/>
<text x="272.30" y="520.30" font-size="13" font-weight="bold" fill="#2b2a28" textLength="118.00" lengthAdjust="spacingAndGlyphs">Analysis &amp; Reporting</text>
</svg>
</body></html>
